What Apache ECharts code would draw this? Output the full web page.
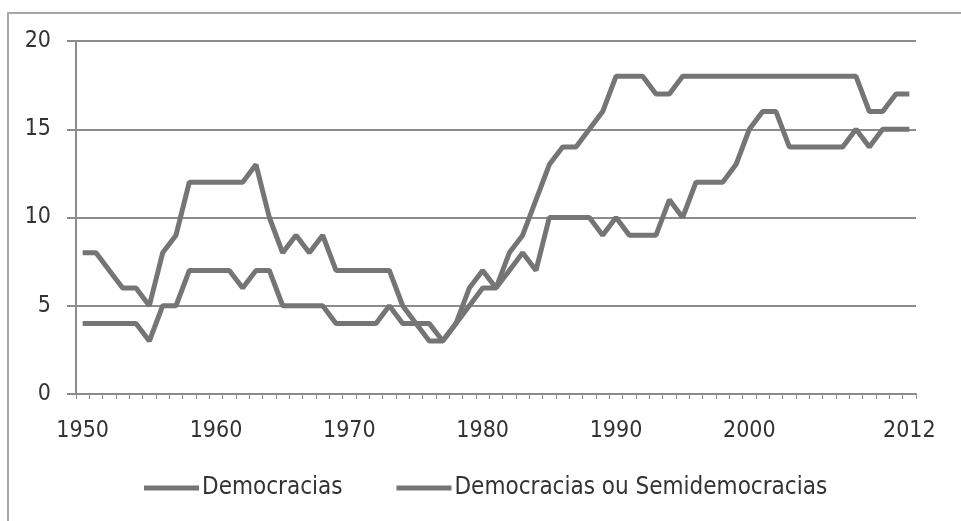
<!DOCTYPE html>
<html>
<head>
<meta charset="utf-8">
<script src="https://cdn.jsdelivr.net/npm/echarts@6/dist/echarts.min.js"></script>
<style>html,body{margin:0;padding:0;background:#fff;}#chart{width:961px;height:521px;}</style>
</head>
<body>
<div id="chart"></div>
<script>
var years = [];
for (var y = 1950; y <= 2012; y++) years.push(String(y));
var shownLabels = ['1950','1960','1970','1980','1990','2000','2012'];
var yTicks = [0, 5, 10, 15, 20];
var democracias = [4,4,4,4,4,3,5,5,7,7,7,7,6,7,7,5,5,5,5,4,4,4,4,5,4,4,4,3,4,5,6,6,7,8,7,10,10,10,10,9,10,9,9,9,11,10,12,12,12,13,15,16,16,14,14,14,14,14,15,14,15,15,15];
var semidemocracias = [8,8,7,6,6,5,8,9,12,12,12,12,12,13,10,8,9,8,9,7,7,7,7,7,5,4,3,3,4,6,7,6,8,9,11,13,14,14,15,16,18,18,18,17,17,18,18,18,18,18,18,18,18,18,18,18,18,18,18,16,16,17,17];
var seriesNames = ['Democracias', 'Democracias ou Semidemocracias'];

var chart = echarts.init(document.getElementById('chart'), null, {renderer: 'canvas'});
var lineColor = '#757575';
var font = '"Liberation Sans Narrow", "DejaVu Sans Condensed", "Liberation Sans"';
chart.setOption({
  animation: false,
  backgroundColor: '#ffffff',
  graphic: [{
    type: 'rect',
    shape: {x: 8, y: 13, width: 1000, height: 600},
    style: {fill: 'none', stroke: '#a8a8a8', lineWidth: 2},
    silent: true
  }],
  grid: {left: 76, right: 45, top: 41, bottom: 127, containLabel: false},
  xAxis: {
    type: 'category',
    data: years,
    boundaryGap: true,
    axisLine: {lineStyle: {color: '#8c8c8c', width: 2}},
    axisTick: {show: true, interval: 0, length: 5, lineStyle: {color: '#8c8c8c', width: 1}},
    axisLabel: {
      interval: 0,
      formatter: function (v) { return shownLabels.indexOf(v) >= 0 ? v : ''; },
      color: '#333333', fontFamily: font, fontSize: 23, margin: 26
    },
    splitLine: {show: false}
  },
  yAxis: {
    type: 'value',
    min: 0, max: 20, interval: 5,
    axisLine: {show: true, lineStyle: {color: '#8c8c8c', width: 2}},
    axisTick: {show: true, length: 9, lineStyle: {color: '#8c8c8c', width: 2}},
    axisLabel: {color: '#333333', fontFamily: font, fontSize: 23, margin: 25,
      formatter: function (v) { return yTicks.indexOf(v) >= 0 ? String(v) : ''; }},
    splitLine: {show: true, lineStyle: {color: '#8c8c8c', width: 2}}
  },
  legend: {
    bottom: 16,
    left: 139,
    itemWidth: 55,
    itemHeight: 5,
    itemGap: 54,
    icon: 'rect',
    textStyle: {color: '#333333', fontFamily: font, fontSize: 24, padding: [0,0,0,-2]},
    data: seriesNames
  },
  series: [
    {name: seriesNames[0], type: 'line', data: democracias, showSymbol: false, symbol: 'none',
     lineStyle: {color: lineColor, width: 5}, itemStyle: {color: lineColor}},
    {name: seriesNames[1], type: 'line', data: semidemocracias, showSymbol: false, symbol: 'none',
     lineStyle: {color: lineColor, width: 5}, itemStyle: {color: lineColor}}
  ]
});
</script>
</body>
</html>
